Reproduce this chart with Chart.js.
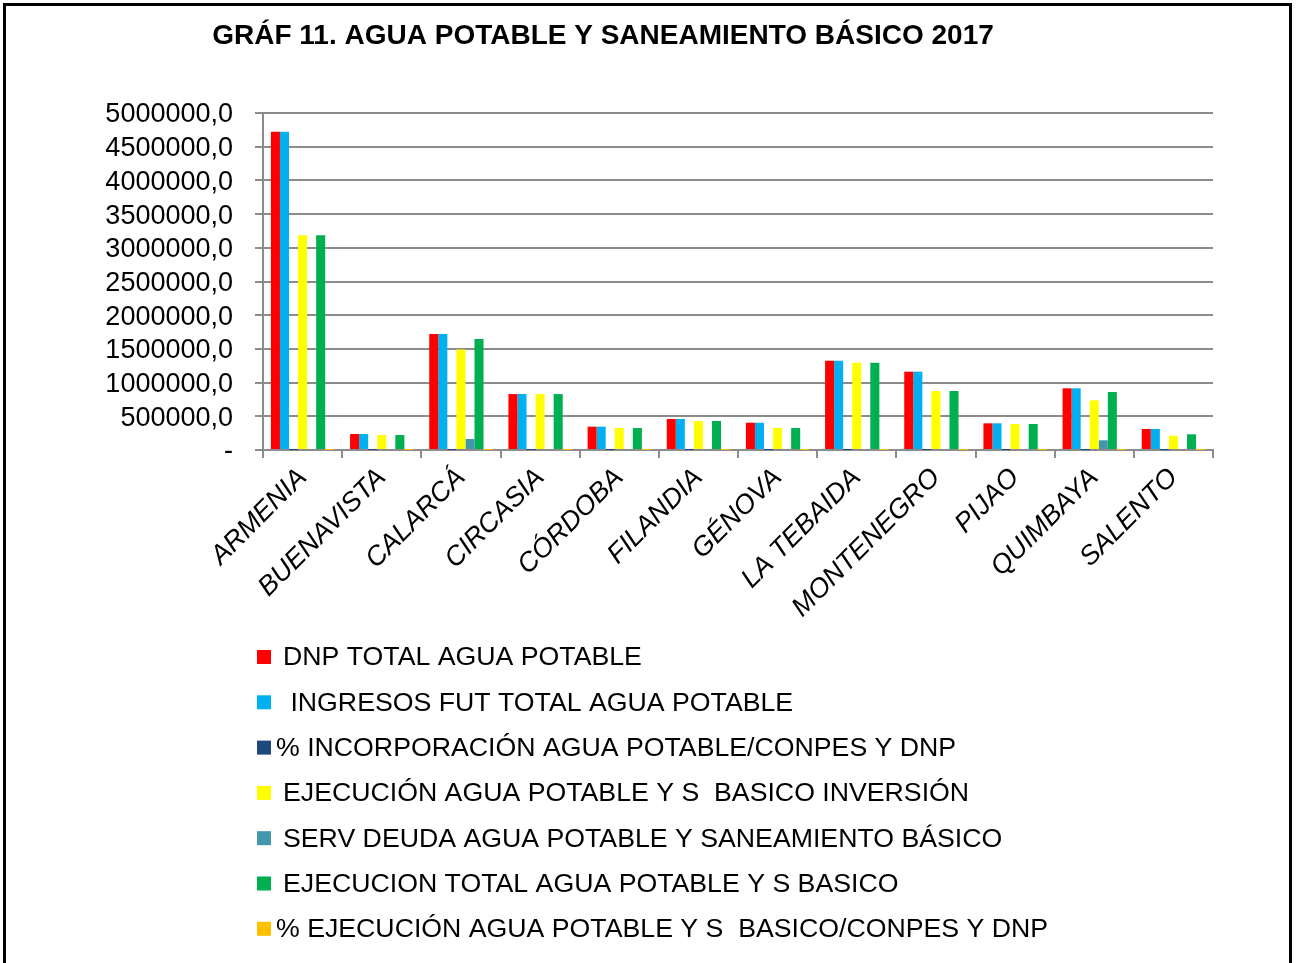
<!DOCTYPE html>
<html>
<head>
<meta charset="utf-8">
<script src="https://cdn.jsdelivr.net/npm/chart.js@4"></script>
<style>
  body { margin: 0; background: #fff; }
  #wrap { width: 1297px; height: 963px; }
</style>
</head>
<body>
<div id="wrap"><canvas id="chart" width="1297" height="963"></canvas></div>
<script>
const categories = ["ARMENIA", "BUENAVISTA", "CALARCÁ", "CIRCASIA", "CÓRDOBA", "FILANDIA", "GÉNOVA", "LA TEBAIDA", "MONTENEGRO", "PIJAO", "QUIMBAYA", "SALENTO"];
const dnpTotal = [4720000, 237000, 1720000, 830000, 346000, 460000, 405000, 1325000, 1162000, 396000, 915000, 312000];
const ingresosFut = [4720000, 237000, 1720000, 830000, 346000, 460000, 405000, 1325000, 1162000, 396000, 915000, 312000];
const pctIncorporacion = [1, 1, 1, 1, 1, 1, 1, 1, 1, 1, 1, 1];
const ejecInversion = [3185000, 222000, 1490000, 830000, 326000, 430000, 326000, 1295000, 875000, 386000, 737000, 212000];
const servDeuda = [0, 0, 163000, 0, 0, 0, 0, 0, 0, 0, 144000, 0];
const ejecTotal = [3185000, 222000, 1647000, 830000, 326000, 430000, 326000, 1295000, 875000, 386000, 860000, 233000];
const pctEjecucion = [0.7, 0.9, 1, 1, 0.9, 0.9, 0.8, 1, 0.8, 1, 0.9, 0.7];

const seriesNames = [
  "DNP TOTAL AGUA POTABLE",
  " INGRESOS FUT TOTAL AGUA POTABLE",
  "% INCORPORACIÓN AGUA POTABLE/CONPES Y DNP",
  "EJECUCIÓN AGUA POTABLE Y S  BASICO INVERSIÓN",
  "SERV DEUDA AGUA POTABLE Y SANEAMIENTO BÁSICO",
  "EJECUCION TOTAL AGUA POTABLE Y S BASICO",
  "% EJECUCIÓN AGUA POTABLE Y S  BASICO/CONPES Y DNP"
];
const seriesColors = ["#FF0000", "#00B0F0", "#1F497D", "#FFFF00", "#4396AC", "#00B050", "#FFC000"];
const seriesData = [dnpTotal, ingresosFut, pctIncorporacion, ejecInversion, servDeuda, ejecTotal, pctEjecucion];

const FONT = "Arial, 'Liberation Sans', sans-serif";

const frameAndLegend = {
  id: "frameAndLegend",
  afterDraw(chart) {
    const ctx = chart.ctx;
    ctx.save();
    // outer frame
    ctx.strokeStyle = "#000";
    ctx.lineWidth = 3;
    ctx.strokeRect(4.5, 4.5, 1286, 1000);
    // title
    ctx.fillStyle = "#000";
    ctx.font = "bold 28px " + FONT;
    ctx.textAlign = "center";
    ctx.textBaseline = "middle";
    ctx.fillText("GRÁF 11. AGUA POTABLE Y SANEAMIENTO BÁSICO 2017", 603, 36);
    // legend, one item per line
    ctx.font = "26.7px " + FONT;
    ctx.textAlign = "left";
    chart.data.datasets.forEach((ds, i) => {
      const y = 657 + i * 45.3;
      ctx.fillStyle = ds.backgroundColor;
      ctx.fillRect(257, y - 7, 14, 14);
      ctx.fillStyle = "#000";
      const x = ds.label.startsWith("%") ? 276 : 283;
      ctx.fillText(ds.label, x, y + 1);
    });
    ctx.restore();
  }
};

new Chart(document.getElementById("chart"), {
  type: "bar",
  data: {
    labels: categories,
    datasets: seriesNames.map((name, i) => ({
      label: name,
      data: seriesData[i],
      backgroundColor: seriesColors[i],
      borderWidth: 0,
      barPercentage: 1.0,
      categoryPercentage: 0.8
    }))
  },
  options: {
    responsive: false,
    animation: false,
    layout: { padding: { top: 113, right: 84, bottom: 333, left: 0 } },
    plugins: {
      legend: { display: false },
      title: { display: false },
      tooltip: { enabled: false }
    },
    scales: {
      x: {
        grid: { drawOnChartArea: false, drawTicks: true, tickLength: 8, color: "#8C8C8C", lineWidth: 2 },
        border: { color: "#8C8C8C", width: 2 },
        ticks: {
          color: "#000",
          font: { family: FONT, size: 27, style: "italic" },
          minRotation: 45,
          maxRotation: 45,
          padding: 4
        },
        afterFit(scale) { scale.height = 180; }
      },
      y: {
        min: 0,
        max: 5000000,
        grid: { color: "#8C8C8C", lineWidth: 2, tickLength: 8 },
        border: { color: "#8C8C8C", width: 2 },
        ticks: {
          stepSize: 500000,
          autoSkip: false,
          color: "#000",
          padding: 22,
          labelOffset: 2,
          font: { family: FONT, size: 27 },
          callback: (v) => v === 0 ? "-" : v.toFixed(1).replace(".", ",")
        },
        afterFit(scale) { scale.width = 263; }
      }
    }
  },
  plugins: [frameAndLegend]
});
</script>
</body>
</html>
